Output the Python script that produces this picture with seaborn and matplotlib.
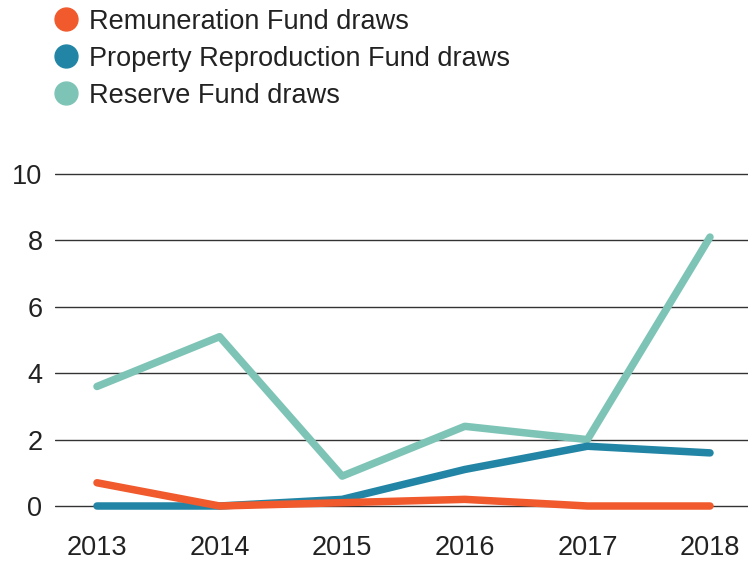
import matplotlib
matplotlib.use("Agg")
import matplotlib.pyplot as plt
from matplotlib.lines import Line2D
import seaborn as sns
import pandas as pd

years = [2013, 2014, 2015, 2016, 2017, 2018]
remuneration = [0.7, 0.0, 0.1, 0.2, 0.0, 0.0]
property_repro = [0.0, 0.0, 0.2, 1.1, 1.8, 1.6]
reserve = [3.6, 5.1, 0.9, 2.4, 2.0, 8.1]
series_names = ["Remuneration Fund draws", "Property Reproduction Fund draws", "Reserve Fund draws"]
colors = ["#F05A2D", "#2285A5", "#7EC4B6"]
yticks = [0, 2, 4, 6, 8, 10]

sns.set_style("white")
plt.rcParams['font.family'] = ['Liberation Sans', 'DejaVu Sans']

rows = []
for name, vals in zip(series_names, [remuneration, property_repro, reserve]):
    for y, v in zip(years, vals):
        rows.append({"year": y, "value": v, "series": name})
df = pd.DataFrame(rows)

fig = plt.figure(figsize=(7.48, 5.61), dpi=100)
ax = fig.add_axes([55/748, 36/561, 1 - 55/748, (525-160)/561])

for y in yticks:
    ax.axhline(y, color="#333333", lw=1.0, zorder=1)

draw_order = [2, 1, 0]
for i in draw_order:
    sub = df[df.series == series_names[i]]
    sns.lineplot(data=sub, x="year", y="value", ax=ax, color=colors[i], lw=5.4,
                 legend=False, zorder=3 + (2 - i), solid_capstyle="round",
                 solid_joinstyle="round")

ax.set_xlim(2013 - 42/122.6, 2018 + 38/122.6)
ax.set_ylim(-19/33.2, 10 + 14/33.2)
ax.set_xticks(years)
ax.set_xticklabels([str(y) for y in years], fontsize=19.5, color="#222222")
ax.set_yticks(yticks)
ax.set_yticklabels([str(y) for y in yticks], fontsize=19.5, color="#222222")
ax.tick_params(axis="both", length=0)
ax.tick_params(axis="y", pad=9)
ax.tick_params(axis="x", pad=7)
ax.set_xlabel("")
ax.set_ylabel("")
for s in ax.spines.values():
    s.set_visible(False)

handles = [Line2D([0], [0], marker="o", color="none", markerfacecolor=c,
                  markeredgecolor=c, markersize=16.5) for c in colors]
fig.legend(handles, series_names, loc="upper left", bbox_to_anchor=(42/748, 1.0 + 2/561),
           frameon=False, fontsize=19.5, handletextpad=0.35, labelspacing=0.4,
           handlelength=1.0, labelcolor="#222222", borderaxespad=0)

fig.savefig("out.png", dpi=100)
